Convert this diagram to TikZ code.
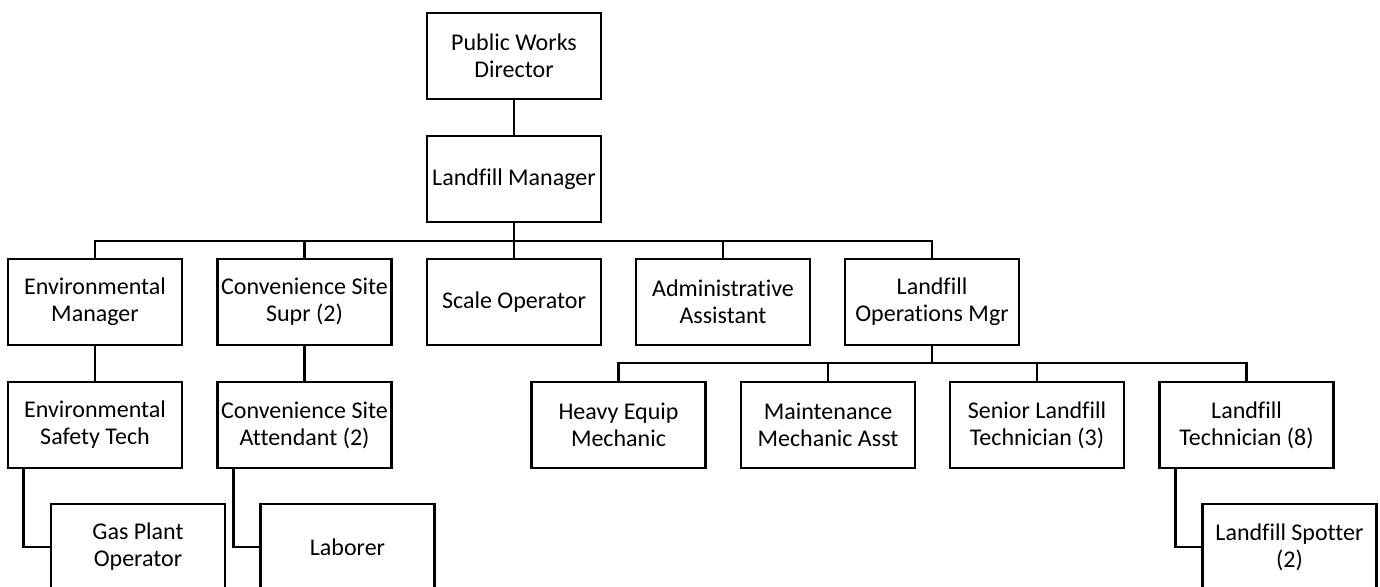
\documentclass[tikz,border=0pt]{standalone}
\usepackage{fontspec}
\setmainfont{Carlito}[Ligatures=NoCommon]
\usetikzlibrary{calc}

\begin{document}
\begin{tikzpicture}[x=0.5pt, y=-0.5pt,
 every text node part/.style={align=center},
 block/.style={rectangle, draw=black, line width=1.4pt, inner sep=0pt, minimum width=87pt, minimum height=43pt, font=\fontsize{12}{13.5}\selectfont},
 link/.style={line width=1.4pt}]

	\useasboundingbox (0,0) rectangle (1380,587);

	\node[block] (pwd) at (514, 56) {Public Works\\ Director};
	\node[block] (lm) at (514, 179) {Landfill Manager};

	\node[block] (em) at (95, 302) {Environmental\\ Manager};
	\node[block] (cs) at (304.5, 302) {Convenience Site\\ Supr (2)};
	\node[block] (so) at (514, 302) {Scale Operator};
	\node[block] (aa) at (723, 302) {Administrative\\ Assistant};
	\node[block] (lom) at (932, 302) {Landfill\\ Operations Mgr};

	\node[block] (est) at (95, 425) {Environmental\\ Safety Tech};
	\node[block] (csa) at (304.5, 425) {Convenience Site\\ Attendant (2)};
	\node[block] (hem) at (618.5, 425) {Heavy Equip\\ Mechanic};
	\node[block] (mma) at (828, 425) {Maintenance\\ Mechanic Asst};
	\node[block] (slt) at (1037, 425) {Senior Landfill\\ Technician (3)};
	\node[block] (lt) at (1246.5, 425) {Landfill\\ Technician (8)};

	\node[block] (gpo) at (138, 547) {Gas Plant\\ Operator};
	\node[block] (lab) at (347.5, 547) {Laborer};
	\node[block] (lsp) at (1289.5, 547) {Landfill Spotter\\ (2)};

	\coordinate (bus1) at (514, 241);
	\coordinate (bus2) at (932, 363);

	\draw[link] (pwd) -- (lm);
	\draw[link] (lm) -- (bus1);
	\foreach \n in {em, cs, so, aa, lom}
		\draw[link] (\n.north) |- (bus1);
	\draw[link] (lom) -- (bus2);
	\foreach \n in {hem, mma, slt, lt}
		\draw[link] (\n.north) |- (bus2);

	\draw[link] (em) -- (est);
	\draw[link] (cs) -- (csa);
	\draw[link] ($(est.south west) + (17, 0)$) |- (gpo.west);
	\draw[link] ($(csa.south west) + (17, 0)$) |- (lab.west);
	\draw[link] ($(lt.south west) + (17, 0)$) |- (lsp.west);
\end{tikzpicture}
\end{document}
